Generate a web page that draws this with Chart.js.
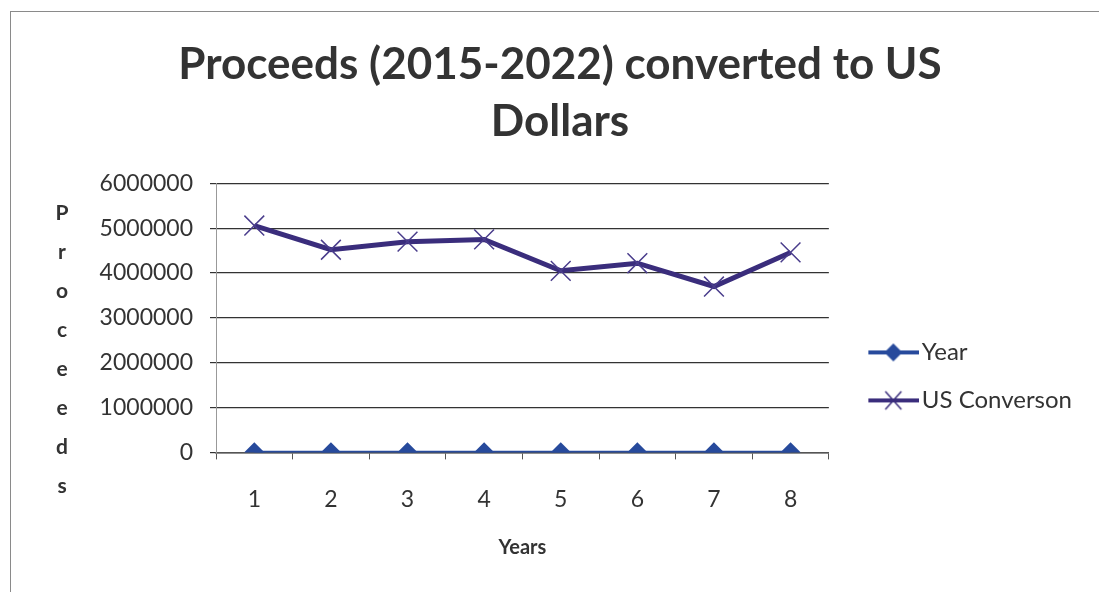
<!DOCTYPE html>
<html>
<head>
<meta charset="utf-8">
<script src="https://cdn.jsdelivr.net/npm/chart.js@4"></script>
<style>
  html, body { margin: 0; padding: 0; background: #fff; }
  #wrap { position: relative; width: 1099px; height: 592px; }
  #frame { position: absolute; left: 10px; top: 11px; width: 1100px; height: 600px; border-left: 1px solid #8a8a8a; border-top: 1px solid #8a8a8a; }
  canvas { position: absolute; left: 0; top: 0; }
</style>
</head>
<body>
<div id="wrap">
  <div id="frame"></div>
  <canvas id="proceedsChart" width="1099" height="592"></canvas>
</div>
<script>
const years = ['1', '2', '3', '4', '5', '6', '7', '8'];
const yearValues = [2015, 2016, 2017, 2018, 2019, 2020, 2021, 2022];
const usConversion = [5060000, 4520000, 4700000, 4750000, 4050000, 4220000, 3700000, 4460000];
const titleLines = ['Proceeds (2015-2022) converted to US', 'Dollars'];
const yTitleLetters = ['P', 'r', 'o', 'c', 'e', 'e', 'd', 's'];

const FONT = 'Lato, "Open Sans", sans-serif';
const TEXT = '#333333';
const yearColor = '#274a9c';
const usColor = '#3a2d7c';

// small canvas swatches for the legend: line with the marker in the middle
function legendSwatch(color, drawMarker) {
    const c = document.createElement('canvas');
    c.width = 76;
    c.height = 24;
    const ctx = c.getContext('2d');
    ctx.strokeStyle = color;
    ctx.lineWidth = 4;
    ctx.beginPath();
    ctx.moveTo(25, 12);
    ctx.lineTo(76, 12);
    ctx.stroke();
    drawMarker(ctx, 50, 12);
    return c;
}

const yearSwatch = legendSwatch(yearColor, (ctx, x, y) => {
    ctx.fillStyle = yearColor;
    ctx.beginPath();
    ctx.moveTo(x, y - 9);
    ctx.lineTo(x + 9, y);
    ctx.lineTo(x, y + 9);
    ctx.lineTo(x - 9, y);
    ctx.closePath();
    ctx.fill();
});

const usSwatch = legendSwatch(usColor, (ctx, x, y) => {
    ctx.strokeStyle = usColor;
    ctx.lineWidth = 1.5;
    ctx.beginPath();
    ctx.moveTo(x - 8, y - 9);
    ctx.lineTo(x + 8, y + 9);
    ctx.moveTo(x + 8, y - 9);
    ctx.lineTo(x - 8, y + 9);
    ctx.stroke();
});

// Excel style vertical axis title, one letter per line
const stackedYTitle = {
    id: 'stackedYTitle',
    afterDraw(chart) {
        const ctx = chart.ctx;
        const x = chart.chartArea.left - 154;
        ctx.save();
        ctx.font = 'bold 21px ' + FONT;
        ctx.fillStyle = TEXT;
        ctx.textAlign = 'center';
        ctx.textBaseline = 'middle';
        yTitleLetters.forEach((ch, i) => {
            ctx.fillText(ch, x, chart.chartArea.top + 30 + i * 39);
        });
        ctx.restore();
    }
};

// legend sits a bit above the bottom of the plot in the original
const legendNudge = {
    id: 'legendNudge',
    afterLayout(chart) {
        chart.legend.top -= 16;
        chart.legend.bottom -= 16;
    }
};

const ctx = document.getElementById('proceedsChart').getContext('2d');
new Chart(ctx, {
    type: 'line',
    data: {
        labels: years,
        datasets: [{
            label: 'Year',
            data: yearValues,
            borderColor: yearColor,
            backgroundColor: yearColor,
            borderWidth: 3,
            pointStyle: 'rectRot',
            pointRadius: 10,
            pointBorderWidth: 0,
            tension: 0,
            fill: false
        }, {
            label: 'US Converson',
            data: usConversion,
            borderColor: usColor,
            backgroundColor: usColor,
            borderWidth: 5,
            pointStyle: 'crossRot',
            pointRadius: 14,
            pointBorderWidth: 1.5,
            pointBorderColor: '#4a3d8c',
            tension: 0,
            fill: false
        }]
    },
    options: {
        responsive: false,
        animation: false,
        layout: {
            padding: { left: 38, right: 17, top: 0, bottom: 0 }
        },
        scales: {
            x: {
                offset: true,
                grid: {
                    offset: true,
                    drawOnChartArea: false,
                    drawTicks: true,
                    tickLength: 7,
                    color: '#555'
                },
                border: { display: true, color: '#555', width: 1.5 },
                ticks: {
                    color: TEXT,
                    font: { family: FONT, size: 23 },
                    padding: 26,
                    maxRotation: 0
                },
                title: {
                    display: true,
                    text: 'Years',
                    color: TEXT,
                    font: { family: FONT, size: 20, weight: 'bold' },
                    padding: { top: -3, bottom: 32 }
                }
            },
            y: {
                min: 0,
                max: 6000000,
                afterFit(scale) {
                    scale.width = 178;
                },
                grid: {
                    color: '#333',
                    lineWidth: 1.2,
                    drawTicks: true,
                    tickLength: 6
                },
                border: { display: true, color: '#999', width: 1 },
                ticks: {
                    stepSize: 1000000,
                    color: TEXT,
                    font: { family: FONT, size: 23 },
                    padding: 17,
                    callback: value => String(value)
                }
            }
        },
        plugins: {
            title: {
                display: true,
                text: titleLines,
                color: TEXT,
                font: { family: FONT, size: 44, weight: 'bold', lineHeight: 1.3 },
                padding: { top: 36, bottom: 33 }
            },
            legend: {
                position: 'right',
                align: 'end',
                fullSize: false,
                labels: {
                    usePointStyle: true,
                    pointStyleWidth: 57,
                    padding: 24,
                    color: TEXT,
                    font: { family: FONT, size: 24 },
                    generateLabels(chart) {
                        return [
                            { text: 'Year', pointStyle: yearSwatch, fontColor: TEXT, datasetIndex: 0, lineWidth: 0, strokeStyle: 'transparent', fillStyle: 'transparent' },
                            { text: 'US Converson', pointStyle: usSwatch, fontColor: TEXT, datasetIndex: 1, lineWidth: 0, strokeStyle: 'transparent', fillStyle: 'transparent' }
                        ];
                    }
                }
            },
            tooltip: { enabled: false }
        }
    },
    plugins: [stackedYTitle, legendNudge]
});
</script>
</body>
</html>
